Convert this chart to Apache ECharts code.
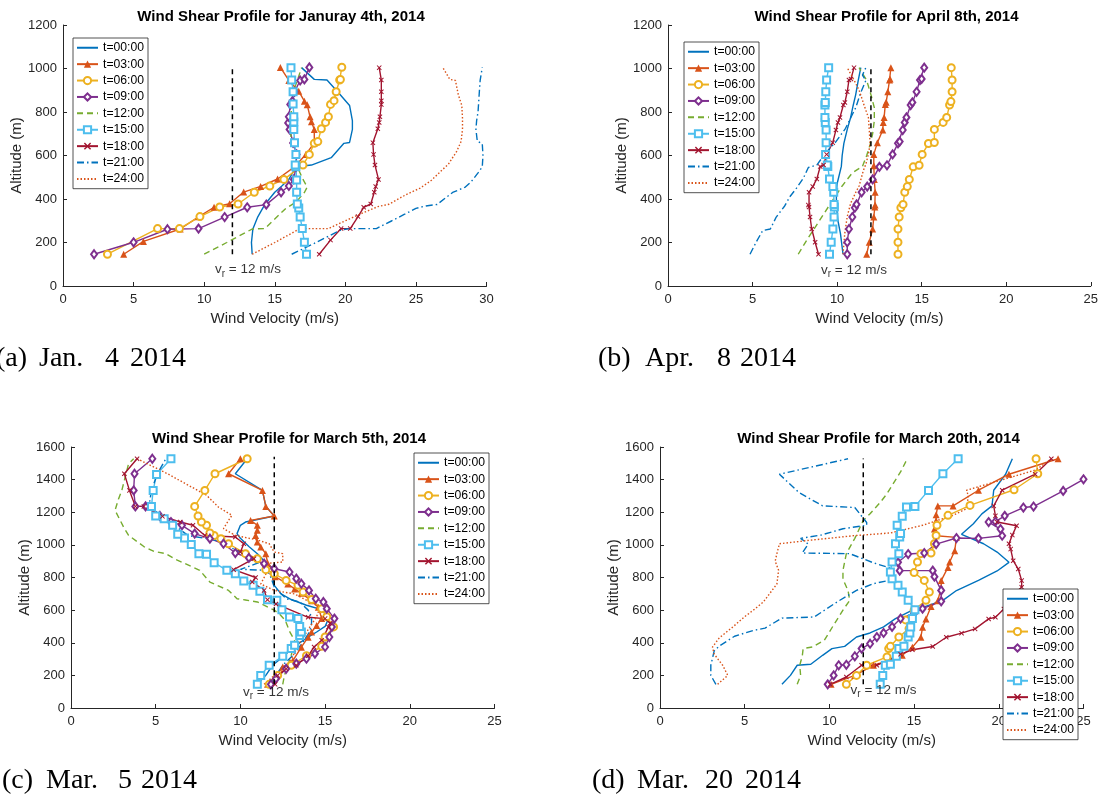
<!DOCTYPE html>
<html>
<head>
<meta charset="utf-8">
<script src="https://cdn.jsdelivr.net/npm/echarts@6/dist/echarts.min.js"></script>
<style>
html,body{margin:0;padding:0;background:#fff;}
#chart{width:1101px;height:798px;}
</style>
</head>
<body>
<div id="chart"></div>
<script>
// ---------- legend names ----------
const names = ['t=00:00','t=03:00','t=06:00','t=09:00','t=12:00','t=15:00','t=18:00','t=21:00','t=24:00'];

// ---------- (a) January 4th, 2014  [velocity m/s, altitude m] ----------
const jan_t00 = [[13.4,146],[13.35,200],[13.45,262],[13.8,318],[14.3,375],[15.0,431],[15.5,460],[16.0,490],[16.5,548],[17.6,556],[19.0,590],[19.9,656],[20.3,660],[20.5,720],[20.5,760],[20.3,830],[19.5,890],[18.7,947],[17.8,950],[16.9,1004]];
const jan_t03 = [[4.3,146],[5.7,205],[8.3,262],[9.6,318],[10.7,362],[11.8,378],[12.8,432],[14.0,458],[15.2,492],[16.4,548],[17.2,605],[17.8,658],[17.8,720],[17.6,755],[17.5,778],[17.3,833],[17.1,850],[16.7,895],[16.0,945],[15.4,1005]];
const jan_t06 = [[3.15,146],[6.7,264],[8.25,264],[9.7,319],[11.1,363],[12.4,377],[13.55,431],[14.65,460],[15.65,490],[17.0,556],[17.45,605],[17.8,656],[18.05,664],[18.3,723],[18.6,752],[18.8,778],[18.95,835],[19.2,852],[19.35,893],[19.6,947],[19.65,950],[19.75,1006]];
const jan_t09 = [[2.2,146],[5.0,201],[7.4,261],[9.6,264],[11.45,317],[13.05,362],[14.4,374],[15.45,431],[16.0,460],[16.35,490],[16.5,548],[16.55,605],[16.3,658],[16.05,720],[15.95,750],[16.0,778],[16.1,835],[16.25,850],[16.4,893],[16.8,945],[17.1,950],[17.45,1005]];
const jan_t12 = [[10.0,146],[11.6,200],[13.4,262],[14.3,264],[15.8,358],[16.5,385],[17.1,430],[17.3,455],[17.0,490],[16.6,548],[16.4,605],[16.2,658],[16.1,720],[16.1,750],[16.15,778],[16.2,835],[16.3,893],[16.6,945],[16.9,1004]];
const jan_t15 = [[17.25,146],[17.1,201],[16.95,264],[16.8,317],[16.7,359],[16.6,377],[16.55,431],[16.55,487],[16.5,548],[16.45,556],[16.5,605],[16.4,659],[16.35,720],[16.35,754],[16.35,778],[16.3,837],[16.3,893],[16.2,947],[16.15,1004]];
const jan_t18 = [[18.15,146],[18.95,211],[19.7,264],[20.35,264],[20.9,319],[21.3,362],[21.8,377],[22.05,431],[22.15,457],[22.35,490],[22.1,556],[22.0,605],[21.95,659],[22.3,723],[22.4,752],[22.45,778],[22.55,834],[22.55,852],[22.55,893],[22.55,947],[22.4,1004]];
const jan_t21 = [[16.2,146],[17.8,196],[19.7,258],[20.3,264],[22.2,264],[23.3,300],[24.2,330],[25.0,357],[25.7,368],[26.5,375],[27.2,410],[27.6,430],[28.5,455],[28.9,478],[29.4,520],[29.7,548],[29.75,600],[29.7,655],[29.35,665],[29.25,720],[29.3,760],[29.4,800],[29.45,850],[29.5,900],[29.55,945],[29.7,1005]];
const jan_t24 = [[13.4,146],[15.0,200],[16.8,264],[18.8,264],[20.0,300],[21.2,335],[22.3,365],[23.1,376],[24.3,420],[25.3,450],[26.1,486],[26.8,530],[27.3,560],[27.9,620],[28.2,665],[28.3,720],[28.3,770],[28.25,830],[28.0,880],[27.8,945],[27.4,950],[26.9,1005]];
const jan_vref = [[12,146],[12,1005]];
const jan_vlabel = [13.1,70];

// ---------- (b) April 8th, 2014 ----------
const apr_t00 = [[10.35,146],[10.2,240],[10.05,300],[9.97,360],[9.95,430],[10.0,470],[10.25,550],[10.3,600],[10.4,656],[10.6,720],[10.8,775],[10.95,830],[11.1,880],[11.25,945],[11.4,1004]];
const apr_t03 = [[11.75,146],[11.9,201],[12.1,262],[12.17,317],[12.23,363],[12.25,372],[12.25,431],[12.2,490],[12.17,553],[12.17,605],[12.38,659],[12.7,717],[12.73,752],[12.78,775],[12.85,835],[12.9,845],[13.0,893],[13.1,947],[13.13,952],[13.18,1004]];
const apr_t06 = [[13.6,146],[13.6,201],[13.6,262],[13.67,317],[13.77,360],[13.9,375],[14.0,431],[14.15,457],[14.27,490],[14.5,548],[14.85,555],[15.03,605],[15.4,655],[15.75,660],[15.75,720],[16.27,752],[16.48,775],[16.65,832],[16.73,848],[16.8,893],[16.8,947],[16.75,1004]];
const apr_t09 = [[10.6,146],[10.6,201],[10.7,262],[10.9,317],[11.05,360],[11.15,375],[11.45,431],[11.78,457],[12.1,490],[12.5,548],[12.95,555],[13.28,605],[13.6,656],[13.7,664],[13.88,717],[14.0,752],[14.1,775],[14.35,832],[14.45,844],[14.7,893],[14.9,947],[15.0,952],[15.15,1004]];
const apr_t12 = [[7.7,146],[8.2,210],[8.7,270],[9.2,330],[9.7,390],[10.3,460],[10.9,520],[11.5,550],[11.75,600],[11.95,650],[12.1,700],[12.2,760],[12.2,820],[12.0,880],[11.75,945],[11.3,1004]];
const apr_t15 = [[9.55,146],[9.65,201],[9.75,262],[9.82,317],[9.84,363],[9.82,375],[9.8,431],[9.75,457],[9.55,492],[9.45,549],[9.42,556],[9.32,605],[9.35,659],[9.35,717],[9.3,752],[9.28,775],[9.28,832],[9.3,844],[9.33,893],[9.38,947],[9.5,1004]];
const apr_t18 = [[8.9,146],[8.7,201],[8.5,262],[8.4,317],[8.34,363],[8.3,372],[8.34,431],[8.56,457],[8.8,492],[9.0,549],[9.2,556],[9.38,605],[9.74,659],[9.93,717],[10.05,752],[10.17,775],[10.37,832],[10.46,844],[10.6,893],[10.7,947],[10.82,952],[11.0,1004]];
const apr_t21 = [[4.85,146],[5.2,200],[5.6,255],[6.05,262],[6.4,317],[6.9,368],[7.2,410],[7.6,450],[8.0,495],[8.3,545],[8.8,556],[9.3,610],[9.9,660],[10.5,725],[11.1,820],[11.4,890],[11.7,945],[11.5,970],[11.7,1004]];
const apr_t24 = [[10.35,146],[10.45,240],[10.6,320],[10.8,380],[11.1,430],[11.3,460],[11.55,530],[11.7,560],[11.85,605],[11.95,655],[11.9,720],[11.85,775],[11.6,830],[11.45,866],[11.3,900],[11.0,947],[10.6,1004]];
const apr_vref = [[12,146],[12,1005]];
const apr_vlabel = [11.0,66];

// ---------- (c) March 5th, 2014 ----------
const mar5_t00 = [[11.0,145],[11.5,200],[11.9,262],[12.5,313],[13.2,378],[14.0,435],[14.5,466],[15.0,500],[15.2,548],[14.8,603],[13.9,630],[13.0,665],[12.4,700],[12.0,752],[11.9,800],[12.0,850],[11.5,891],[11.0,946],[10.5,990],[10.0,1040],[9.8,1069],[10.0,1120],[10.3,1140],[12.0,1177],[11.5,1236],[11.3,1334],[9.7,1436],[10.4,1528]];
const mar5_t03 = [[11.6,145],[12.1,200],[12.5,251],[13.1,291],[13.6,373],[14.0,434],[14.2,466],[14.5,505],[14.8,548],[14.6,618],[14.2,658],[13.6,703],[13.2,730],[12.8,760],[12.05,805],[11.9,840],[11.6,891],[11.5,946],[11.2,987],[11.0,1017],[10.9,1058],[11.0,1089],[11.0,1120],[10.6,1150],[12.0,1177],[11.5,1236],[11.3,1334],[9.3,1436],[10.0,1528]];
const mar5_t06 = [[11.7,145],[12.2,200],[13.0,262],[13.9,320],[14.8,378],[15.0,435],[15.5,497],[15.1,560],[14.8,609],[14.2,665],[13.7,711],[13.4,752],[12.7,782],[12.0,823],[11.5,848],[11.0,915],[10.3,946],[9.3,1007],[8.85,1038],[8.45,1058],[8.2,1073],[8.0,1120],[7.7,1140],[7.5,1177],[7.3,1236],[7.9,1334],[8.5,1436],[10.4,1528]];
const mar5_t09 = [[11.8,145],[12.1,180],[12.7,240],[13.3,272],[13.9,302],[14.4,333],[15.0,374],[15.25,435],[15.4,497],[15.55,548],[15.1,609],[14.9,650],[14.45,670],[14.05,721],[13.6,762],[13.3,793],[12.9,834],[12.0,854],[11.4,885],[10.5,920],[9.7,950],[9.0,1007],[8.2,1038],[7.3,1069],[6.55,1120],[5.9,1140],[5.25,1177],[4.4,1236],[3.8,1236],[3.7,1334],[3.75,1436],[4.8,1528]];
const mar5_t12 = [[12.5,145],[12.6,200],[12.8,262],[13.0,323],[13.2,415],[12.9,470],[12.65,537],[12.3,577],[12.0,600],[11.0,650],[10.3,662],[9.8,670],[9.3,721],[8.2,772],[7.6,844],[6.1,915],[5.6,946],[4.9,960],[4.3,990],[3.4,1058],[3.1,1110],[2.6,1212],[2.8,1280],[3.0,1334],[3.4,1498],[3.7,1528]];
const mar5_t15 = [[11.0,145],[11.2,200],[11.7,262],[12.5,317],[13.0,364],[13.2,384],[13.5,445],[13.6,466],[13.5,500],[13.4,548],[12.9,558],[12.45,603],[12.15,660],[11.6,664],[11.15,715],[10.75,752],[10.2,778],[9.7,823],[9.2,844],[8.45,891],[8.0,942],[7.55,946],[7.1,1003],[6.7,1042],[6.3,1065],[6.0,1120],[5.5,1160],[5.0,1177],[4.75,1236],[4.85,1334],[5.05,1432],[5.9,1528]];
const mar5_t18 = [[12.05,145],[12.2,200],[12.7,240],[13.3,262],[14.0,320],[14.35,374],[14.8,415],[15.2,497],[15.3,520],[15.0,548],[14.0,556],[12.1,638],[11.6,664],[11.4,721],[10.7,772],[10.9,800],[9.6,848],[10.8,915],[10.0,956],[10.2,1007],[9.7,1048],[7.9,1058],[7.2,1120],[6.45,1140],[5.4,1175],[4.3,1236],[3.8,1236],[3.45,1334],[3.15,1436],[3.9,1528]];
const mar5_t21 = [[11.8,145],[12.1,200],[12.5,262],[13.2,333],[13.8,420],[14.1,470],[14.2,520],[14.2,560],[14.0,600],[13.5,650],[12.7,670],[12.0,742],[11.8,800],[11.6,844],[10.0,850],[11.2,895],[10.6,926],[9.5,980],[8.5,1030],[6.9,1058],[5.4,1175],[4.6,1236],[4.75,1334],[5.1,1436],[5.6,1528]];
const mar5_t24 = [[11.4,145],[12.0,200],[12.5,231],[13.0,300],[13.5,400],[14.0,480],[14.5,560],[14.7,618],[14.1,650],[13.2,699],[12.0,721],[11.2,760],[11.5,820],[11.4,885],[12.5,895],[12.5,946],[12.0,956],[11.7,1007],[11.0,1030],[9.7,1058],[9.0,1100],[9.3,1150],[9.5,1181],[8.7,1232],[8.0,1304],[5.7,1436],[3.9,1528]];
const mar5_vref = [[12,145],[12,1540]];
const mar5_vlabel = [12.1,88];

// ---------- (d) March 20th, 2014 ----------
const mar20_t00 = [[7.2,145],[7.7,200],[8.1,262],[8.9,268],[9.6,323],[10.15,364],[10.9,378],[11.6,435],[12.4,460],[13.2,497],[13.9,548],[14.9,600],[15.6,620],[16.7,660],[17.5,720],[18.8,783],[19.9,840],[20.6,893],[19.9,956],[19.1,1007],[17.8,1065],[18.5,1130],[19.0,1190],[19.6,1239],[19.7,1335],[20.4,1433],[20.8,1528]];
const mar20_t03 = [[10.1,145],[11.5,200],[12.6,262],[13.5,290],[14.3,323],[14.9,373],[15.4,434],[15.5,495],[15.7,546],[16.0,622],[16.4,658],[16.6,738],[16.6,781],[17.0,862],[17.1,895],[17.4,964],[17.5,1046],[16.3,1056],[16.2,1097],[16.3,1148],[16.3,1184],[16.4,1239],[17.3,1239],[18.8,1335],[20.6,1433],[23.5,1528]];
const mar20_t06 = [[11.0,145],[11.6,200],[12.2,262],[13.4,313],[13.5,364],[13.6,378],[14.1,435],[14.7,487],[14.5,540],[15.0,600],[15.7,660],[15.9,711],[15.6,782],[15.0,830],[15.2,895],[15.4,946],[16.0,950],[16.2,1007],[16.3,1058],[16.35,1120],[17.0,1181],[18.3,1242],[20.9,1338],[22.3,1436],[22.2,1528]];
const mar20_t09 = [[9.9,145],[10.25,200],[10.55,262],[11.0,265],[11.5,317],[11.9,364],[12.4,394],[12.8,435],[13.2,460],[13.7,497],[14.2,548],[15.0,580],[15.5,609],[16.6,654],[16.6,721],[16.2,805],[16.1,842],[14.15,842],[14.05,893],[14.65,944],[15.6,950],[16.3,1005],[17.5,1042],[18.8,1040],[20.2,1056],[20.1,1097],[19.4,1140],[19.8,1143],[20.35,1178],[21.45,1229],[22.05,1235],[23.8,1331],[25.0,1402]];
const mar20_t12 = [[8.1,145],[8.3,200],[8.25,262],[8.4,320],[8.45,364],[9.0,374],[9.7,415],[10.2,500],[10.8,600],[11.2,660],[11.1,720],[10.8,790],[10.8,844],[11.0,946],[11.5,1040],[12.0,1150],[12.4,1191],[13.0,1260],[13.4,1314],[14.2,1447],[14.6,1528]];
const mar20_t15 = [[13.0,145],[13.15,200],[13.3,262],[13.6,268],[13.95,317],[14.1,364],[14.4,378],[14.65,435],[14.75,460],[14.8,497],[14.9,548],[15.05,603],[14.65,660],[14.3,711],[14.05,752],[13.7,793],[13.6,834],[13.7,895],[14.1,946],[13.9,1007],[14.15,1048],[14.2,1069],[14.0,1120],[14.3,1175],[14.55,1232],[15.05,1236],[15.85,1334],[16.7,1436],[17.6,1528]];
const mar20_t18 = [[10.05,145],[11.0,190],[11.9,262],[12.8,262],[14.2,330],[14.9,357],[16.1,377],[16.9,434],[17.8,459],[18.6,485],[19.4,546],[19.8,556],[20.3,607],[20.9,700],[21.35,740],[21.35,781],[21.15,852],[20.85,903],[20.7,974],[20.6,1007],[20.8,1060],[21.05,1117],[19.9,1140],[19.8,1178],[19.7,1239],[20.2,1335],[22.15,1433],[23.1,1528]];
const mar20_t21 = [[3.3,145],[3.0,200],[3.0,262],[3.2,350],[3.5,380],[4.4,440],[5.5,475],[6.2,490],[7.2,551],[9.1,558],[10.45,650],[11.6,721],[12.6,762],[13.5,782],[13.7,854],[12.6,890],[11.2,946],[8.4,950],[8.75,1005],[8.3,1040],[9.5,1060],[10.8,1099],[12.2,1120],[12.2,1137],[11.5,1229],[9.6,1239],[8.2,1321],[7.05,1433],[11.1,1528]];
const mar20_t24 = [[3.4,145],[4.0,200],[3.7,262],[3.2,330],[3.1,374],[3.5,430],[4.3,497],[5.0,560],[5.5,599],[6.1,650],[6.5,705],[6.9,760],[7.0,844],[6.8,900],[6.9,946],[7.05,1007],[9.0,1030],[11.6,1058],[13.6,1073],[15.5,1120],[17.3,1181],[18.1,1222],[18.2,1300],[18.1,1335],[21.0,1423],[22.2,1460],[23.1,1528]];
const mar20_vref = [[12,145],[12,1530]];
const mar20_vlabel = [13.2,102];

// ---------- styling (not data) ----------
const XPATH = 'path://M0,1.4L1.4,0L5,3.6L8.6,0L10,1.4L6.4,5L10,8.6L8.6,10L5,6.4L1.4,10L0,8.6L3.6,5Z';
const styles = [
  {color:'#0072BD', type:'solid', symbol:'none', size:0, bw:0},
  {color:'#D95319', type:'solid', symbol:'triangle', size:7, bw:0},
  {color:'#EDB120', type:'solid', symbol:'emptyCircle', size:7, bw:1.1},
  {color:'#7E2F8E', type:'solid', symbol:'emptyDiamond', size:[6,8], bw:1.1},
  {color:'#77AC30', type:[6,4], symbol:'none', size:0, bw:0},
  {color:'#4DBEEE', type:'solid', symbol:'emptyRect', size:7, bw:1.1},
  {color:'#A2142F', type:'solid', symbol:XPATH, size:5, bw:0},
  {color:'#0072BD', type:[7,3,1.5,3], symbol:'none', size:0, bw:0},
  {color:'#D95319', type:[1.5,2], symbol:'none', size:0, bw:0}
];

const panels = [
  {grid:{left:63, top:25, width:423.5, height:261}, xMax:30, yMax:1200,
   title:'Wind Shear Profile for Januray 4th, 2014', tx:276, ty:4,
   data:[jan_t00,jan_t03,jan_t06,jan_t09,jan_t12,jan_t15,jan_t18,jan_t21,jan_t24],
   vref:jan_vref, vlabel:jan_vlabel, legend:{left:73, top:38}},
  {grid:{left:668, top:25, width:423.3, height:261}, xMax:25, yMax:1200,
   title:'Wind Shear Profile for April 8th, 2014', tx:881.5, ty:4,
   data:[apr_t00,apr_t03,apr_t06,apr_t09,apr_t12,apr_t15,apr_t18,apr_t21,apr_t24],
   vref:apr_vref, vlabel:apr_vlabel, legend:{left:684, top:42}},
  {grid:{left:71, top:447, width:423.5, height:261}, xMax:25, yMax:1600,
   title:'Wind Shear Profile for March 5th, 2014', tx:284, ty:426,
   data:[mar5_t00,mar5_t03,mar5_t06,mar5_t09,mar5_t12,mar5_t15,mar5_t18,mar5_t21,mar5_t24],
   vref:mar5_vref, vlabel:mar5_vlabel, legend:{left:414, top:453}},
  {grid:{left:660, top:447, width:423.5, height:261}, xMax:25, yMax:1600,
   title:'Wind Shear Profile for March 20th, 2014', tx:873.5, ty:426,
   data:[mar20_t00,mar20_t03,mar20_t06,mar20_t09,mar20_t12,mar20_t15,mar20_t18,mar20_t21,mar20_t24],
   vref:mar20_vref, vlabel:mar20_vlabel, legend:{left:1003, top:589}}
];

const captions = [
  {y:359, parts:[['(a)',-4],['Jan.',39],['4',105],['2014',130]]},
  {y:359, parts:[['(b)',598],['Apr.',645],['8',717],['2014',740]]},
  {y:781, parts:[['(c)',2],['Mar.',46],['5',118],['2014',141]]},
  {y:781, parts:[['(d)',592],['Mar.',637],['20',705],['2014',745]]}
];

const AX = '#262626';
const FONT = 'Liberation Sans, Arial, Helvetica, sans-serif';

// legend entries: hide the marker for series drawn without markers
const legendData = names.map((n,k) => styles[k].symbol === 'none'
  ? {name:n, itemStyle:{opacity:0}} : {name:n});

const option = {
  backgroundColor:'#fff',
  animation:false,
  textStyle:{fontFamily:FONT},
  title: panels.map(p => ({text:p.title, left:p.tx, top:p.ty, textAlign:'center',
     textStyle:{fontSize:15, fontWeight:'bold', color:'#000', fontFamily:FONT}})),
  grid: panels.map(p => Object.assign({containLabel:false}, p.grid)),
  xAxis: panels.map((p,i) => ({
    type:'value', gridIndex:i, min:0, max:p.xMax, interval:5,
    axisLine:{show:true, onZero:false, lineStyle:{color:AX, width:1}},
    axisTick:{show:true, inside:true, length:4, lineStyle:{color:AX}},
    axisLabel:{color:AX, fontSize:13, margin:7, fontFamily:FONT, formatter:v => String(v)},
    splitLine:{show:false},
    name:'Wind Velocity (m/s)', nameLocation:'middle', nameGap:25,
    nameTextStyle:{fontSize:15, color:AX, fontFamily:FONT}
  })),
  yAxis: panels.map((p,i) => ({
    type:'value', gridIndex:i, min:0, max:p.yMax, interval:200,
    axisLine:{show:true, onZero:false, lineStyle:{color:AX, width:1}},
    axisTick:{show:true, inside:true, length:4, lineStyle:{color:AX}},
    axisLabel:{color:AX, fontSize:13, margin:6, fontFamily:FONT, formatter:v => String(v)},
    splitLine:{show:false},
    name:'Altitude (m)', nameLocation:'middle', nameGap:36,
    nameTextStyle:{fontSize:15, color:AX, fontFamily:FONT}
  })),
  legend: panels.map(p => ({
    data:legendData, orient:'vertical', left:p.legend.left, top:p.legend.top,
    itemWidth:21, itemHeight:9, itemGap:2.9, padding:[3,4,3,3],
    borderColor:AX, borderWidth:0.8, backgroundColor:'#fff',
    selectedMode:false, z:10,
    textStyle:{fontSize:12.2, color:'#000', fontFamily:FONT, lineHeight:13.5}
  })),
  graphic: [].concat(...captions.map(c => c.parts.map(pt => ({
    type:'text', x:pt[1], y:c.y, silent:true,
    style:{text:pt[0], fontSize:28, fontFamily:'Liberation Serif, Times New Roman, serif', fill:'#000', verticalAlign:'middle', align:'left'}
  })))),
  series: []
};

panels.forEach((p,i) => {
  p.data.forEach((d,k) => {
    const s = styles[k];
    option.series.push({
      type:'line', name:names[k], xAxisIndex:i, yAxisIndex:i, data:d,
      symbol:s.symbol, symbolSize:s.size, showSymbol:s.symbol !== 'none',
      lineStyle:{color:s.color, width:1.4, type:s.type},
      itemStyle:{color:s.color, borderColor:s.color, borderWidth:s.bw},
      emphasis:{disabled:true}, silent:true, z:2
    });
  });
  option.series.push({
    type:'line', name:'vref', xAxisIndex:i, yAxisIndex:i, data:p.vref,
    symbol:'none', lineStyle:{color:'#000', width:1.5, type:[5,4]}, silent:true, z:3
  });
  option.series.push({
    type:'scatter', name:'vlabel', xAxisIndex:i, yAxisIndex:i, data:[p.vlabel],
    symbolSize:0, silent:true, z:4,
    label:{show:true, position:'inside', formatter:'{v|v}{r|r}{v| = 12 m/s}',
      rich:{v:{fontSize:13.5, color:'#000', fontFamily:FONT, lineHeight:16, verticalAlign:'top'},
            r:{fontSize:10, color:'#000', fontFamily:FONT, lineHeight:16, verticalAlign:'bottom', padding:[9,0,0,0]}}}
  });
});

const chart = echarts.init(document.getElementById('chart'), null, {renderer:'canvas'});
chart.setOption(option);
</script>
</body>
</html>
